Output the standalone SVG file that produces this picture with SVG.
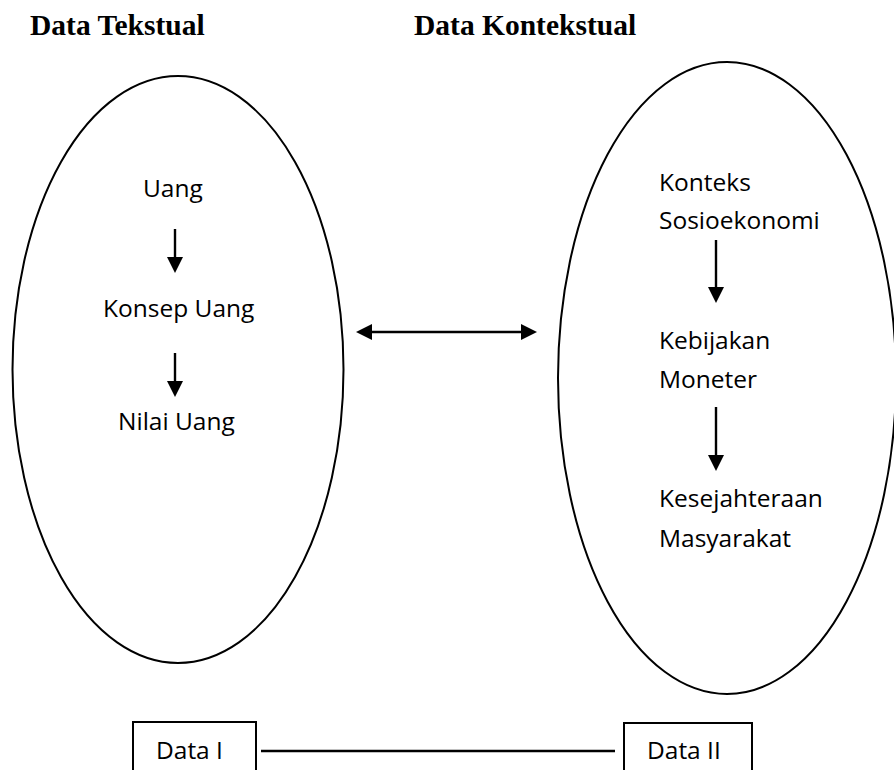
<svg xmlns="http://www.w3.org/2000/svg" width="894" height="770" viewBox="0 0 894 770">
<style>
.h{font-family:"Liberation Serif","Times New Roman",serif;font-weight:bold;font-size:29.5px;fill:#000}
.t{font-family:"Open Sans","Noto Sans",sans-serif;font-size:24.5px;fill:#000}
.o{fill:none;stroke:#000;stroke-width:2}
.c{fill:none;stroke:#000;stroke-width:2.4}
</style>
<defs>
<marker id="ah" viewBox="0 0 16 16" refX="2" refY="8" markerWidth="16" markerHeight="16" markerUnits="userSpaceOnUse" orient="auto-start-reverse">
<path d="M0,0 L16,8 L0,16 Z" fill="#000"/>
</marker>
</defs>
<rect width="894" height="770" fill="#fff"/>
<g id="heading-textual"><text class="h" x="30" y="35">Data Tekstual</text></g>
<g id="heading-contextual"><text class="h" x="414" y="35">Data Kontekstual</text></g>
<g id="ellipse-left"><ellipse class="o" cx="178" cy="369.5" rx="165.5" ry="293.5"/></g>
<g id="ellipse-right"><ellipse class="o" cx="727" cy="378" rx="169" ry="316"/></g>
<g id="uang"><text class="t" x="143" y="197">Uang</text></g>
<g id="konsep-uang"><text class="t" x="103" y="317">Konsep Uang</text></g>
<g id="nilai-uang"><text class="t" x="118" y="430">Nilai Uang</text></g>
<g id="konteks"><text class="t" x="659" y="191">Konteks</text><text class="t" x="659" y="229">Sosioekonomi</text></g>
<g id="kebijakan"><text class="t" x="659" y="349">Kebijakan</text><text class="t" x="659" y="388">Moneter</text></g>
<g id="kesejahteraan"><text class="t" x="659" y="507">Kesejahteraan</text><text class="t" x="659" y="547">Masyarakat</text></g>
<g id="data-1"><rect class="o" x="133" y="722" width="123" height="70"/><text class="t" x="156" y="759">Data I</text></g>
<g id="data-2"><rect class="o" x="624" y="723" width="128" height="70"/><text class="t" x="647" y="759">Data II</text></g>
<g id="connectors">
<line class="c" x1="175" y1="229" x2="175" y2="259" marker-end="url(#ah)"/>
<line class="c" x1="175" y1="353" x2="175" y2="383" marker-end="url(#ah)"/>
<line class="c" x1="716" y1="240" x2="716" y2="289" marker-end="url(#ah)"/>
<line class="c" x1="716" y1="407" x2="716" y2="457" marker-end="url(#ah)"/>
<line class="c" x1="370" y1="332" x2="523" y2="332" marker-start="url(#ah)" marker-end="url(#ah)"/>
<line class="c" x1="261" y1="751" x2="615" y2="751"/>
</g>
</svg>
